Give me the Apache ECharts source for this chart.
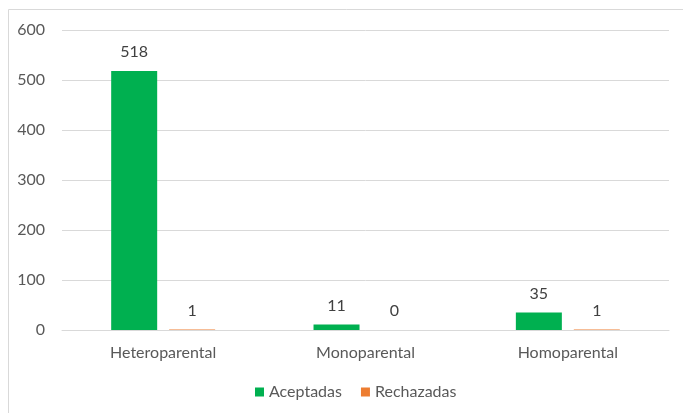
<!DOCTYPE html>
<html>
<head>
<meta charset="utf-8">
<script src="https://cdn.jsdelivr.net/npm/echarts@6/dist/echarts.min.js"></script>
<style>
    html, body { margin: 0; padding: 0; background: #fff; }
    #chart { width: 683px; height: 413px; }
</style>
</head>
<body>
<div id="chart"></div>
<script>
var categories = ['Heteroparental', 'Monoparental', 'Homoparental'];
var aceptadas = [518, 11, 35];
var rechazadas = [1, 0, 1];
var yTicks = [0, 100, 200, 300, 400, 500, 600];

var dom = document.getElementById("chart");
var myChart = echarts.init(dom);
var font = 'Lato';
var textColor = '#595959';

var option = {
    animation: false,
    textStyle: { fontFamily: font },
    graphic: [{
        type: 'rect',
        shape: { x: 8.5, y: 9.5, width: 700, height: 420 },
        style: { fill: 'none', stroke: '#d9d9d9', lineWidth: 1 },
        silent: true
    }],
    legend: {
        data: ['Aceptadas', 'Rechazadas'],
        bottom: 8,
        left: 250,
        icon: 'rect',
        itemWidth: 9,
        itemHeight: 9,
        itemGap: 19,
        itemStyle: { borderWidth: 0 },
        textStyle: { color: textColor, fontSize: 16, fontFamily: font }
    },
    grid: {
        left: 62,
        right: 14,
        top: 30,
        bottom: 83
    },
    xAxis: {
        type: 'category',
        data: categories,
        axisLine: { lineStyle: { color: '#d9d9d9', width: 1 } },
        axisTick: { show: false },
        axisLabel: { color: textColor, fontSize: 16, fontFamily: font, margin: 15 }
    },
    yAxis: {
        type: 'value',
        min: yTicks[0],
        max: yTicks[yTicks.length - 1],
        interval: 100,
        axisLine: { show: false },
        axisTick: { show: false },
        axisLabel: { color: textColor, fontSize: 16, fontFamily: font, margin: 17 },
        splitLine: { lineStyle: { color: '#d9d9d9', width: 1 } }
    },
    series: [{
            name: 'Aceptadas',
            type: 'bar',
            data: aceptadas,
            barWidth: 46,
            barGap: '26%',
            itemStyle: { color: '#00b050' },
            label: {
                show: true,
                position: 'top',
                distance: 11,
                color: '#404040',
                fontSize: 16,
                fontFamily: font
            }
        },
        {
            name: 'Rechazadas',
            type: 'bar',
            data: rechazadas,
            barWidth: 46,
            itemStyle: { color: '#ed7d31' },
            label: {
                show: true,
                position: 'top',
                distance: 11,
                color: '#404040',
                fontSize: 16,
                fontFamily: font
            }
        }
    ]
};

myChart.setOption(option);
</script>
</body>
</html>
